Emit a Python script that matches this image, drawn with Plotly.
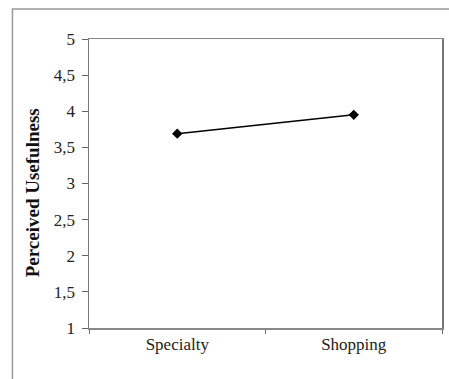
import plotly.graph_objects as go

categories = ["Specialty", "Shopping"]
values = [3.69, 3.95]
y_ticks = [1, 1.5, 2, 2.5, 3, 3.5, 4, 4.5, 5]
y_tick_labels = ["1", "1,5", "2", "2,5", "3", "3,5", "4", "4,5", "5"]

W, H = 449, 379
ml, mr, mt, mb = 89, 5, 39, 51
pw, ph = W - ml - mr, H - mt - mb

def px_x(x):  # pixel x -> paper x
    return (x - ml) / pw

def px_y(y):  # pixel y -> paper y
    return (H - mb - y) / ph

fig = go.Figure()
fig.add_trace(go.Scatter(
    x=categories, y=values, mode="lines+markers",
    line=dict(color="black", width=1.5),
    marker=dict(symbol="diamond", size=8, color="black"),
    showlegend=False, hoverinfo="skip",
))

font = "Liberation Serif, Times New Roman, serif"
fig.update_layout(
    width=W, height=H,
    margin=dict(l=ml, r=mr, t=mt, b=mb, pad=0),
    paper_bgcolor="white", plot_bgcolor="white",
    font=dict(family=font, size=17, color="#222"),
    hovermode=False,
    xaxis=dict(
        type="category", range=[-0.5, 1.5], tickson="boundaries",
        ticks="outside", ticklen=4, tickcolor="#666",
        showline=True, linecolor="#888", linewidth=1.5, mirror=True,
        showgrid=False, zeroline=False,
        tickfont=dict(family=font, size=17, color="#222"),
    ),
    yaxis=dict(
        range=[1, 5], tickvals=y_ticks, ticktext=y_tick_labels,
        ticks="outside", ticklen=6, tickcolor="#666",
        showline=True, linecolor="#777", linewidth=1.5, mirror=True,
        showgrid=False, zeroline=False,
        tickfont=dict(family=font, size=17, color="#222"),
        ticklabelstandoff=3,
    ),
)

fig.add_annotation(
    text="<b>Perceived Usefulness</b>", textangle=-90,
    xref="paper", yref="paper",
    x=px_x(33), y=px_y(193),
    xanchor="center", yanchor="middle", showarrow=False,
    font=dict(family=font, size=19, color="#111"),
)

fig.add_shape(
    type="rect", xref="paper", yref="paper",
    x0=px_x(12), x1=px_x(470),
    y0=px_y(400), y1=px_y(9),
    line=dict(color="#999", width=1.5), fillcolor="rgba(0,0,0,0)",
    layer="below",
)

fig.write_html(
    "out.html",
    config={"displayModeBar": False, "staticPlot": True},
    post_script="document.body.style.margin='0';document.body.style.overflow='hidden';",
)
